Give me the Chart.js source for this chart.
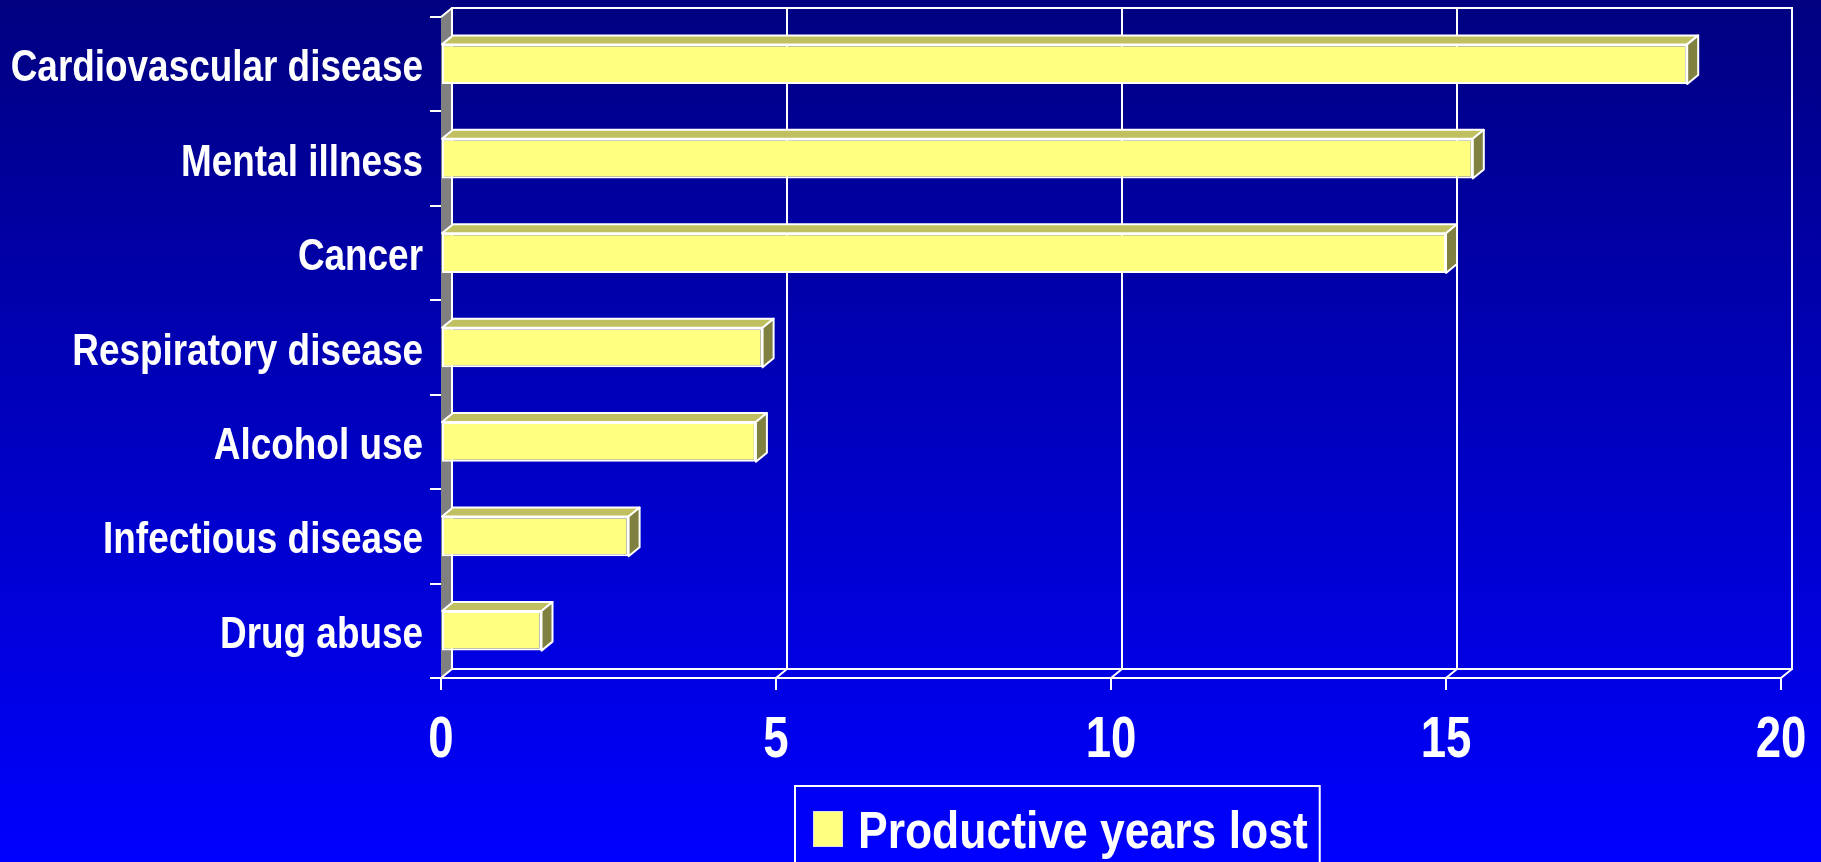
<!DOCTYPE html>
<html>
<head>
<meta charset="utf-8">
<script src="https://cdn.jsdelivr.net/npm/chart.js@4/dist/chart.umd.min.js"></script>
<style>
  html, body { margin: 0; padding: 0; background: #0000c0; overflow: hidden; }
  #wrap { width: 1821px; height: 862px; }
</style>
</head>
<body>
<div id="wrap"><canvas id="c" width="1821" height="862"></canvas></div>
<script>
// ---- data ----
const categories = [
  'Cardiovascular disease',
  'Mental illness',
  'Cancer',
  'Respiratory disease',
  'Alcohol use',
  'Infectious disease',
  'Drug abuse'
];
const productiveYearsLost = [18.6, 15.4, 15.0, 4.8, 4.7, 2.8, 1.5];
const xTickValues = [0, 5, 10, 15, 20];
const seriesLabel = 'Productive years lost';

// ---- styling ----
const FONT = '"Liberation Sans", Arial, sans-serif';
const DX = 11, DY = 9;
const FRONT = '#FFFF80', TOP = '#C0C060', SIDE = '#808040', WALL = '#808080';

function seg(ctx, x1, y1, x2, y2) {
  ctx.beginPath(); ctx.moveTo(x1, y1); ctx.lineTo(x2, y2); ctx.stroke();
}
function poly(ctx, pts, fill) {
  ctx.beginPath();
  ctx.moveTo(pts[0][0], pts[0][1]);
  for (let i = 1; i < pts.length; i++) ctx.lineTo(pts[i][0], pts[i][1]);
  ctx.closePath();
  ctx.fillStyle = fill; ctx.fill();
  ctx.stroke();
}
// condensed text (narrow bold look)
function narrowText(ctx, text, x, y, size, sx, align) {
  ctx.save();
  ctx.font = 'bold ' + size + 'px ' + FONT;
  ctx.fillStyle = '#FFFFFF';
  ctx.textAlign = align;
  ctx.textBaseline = 'alphabetic';
  ctx.translate(x, y);
  ctx.scale(sx, 1);
  ctx.fillText(text, 0, 0);
  const w = ctx.measureText(text).width * sx;
  ctx.restore();
  return w;
}

const threeD = {
  id: 'threeD',
  beforeDraw(chart) {
    const ctx = chart.ctx;
    const g = ctx.createLinearGradient(0, 0, 0, chart.height);
    g.addColorStop(0, '#000080');
    g.addColorStop(1, '#0000FF');
    ctx.save();
    ctx.fillStyle = g;
    ctx.fillRect(0, 0, chart.width, chart.height);
    ctx.restore();
  },
  beforeDatasetsDraw(chart) {
    const ctx = chart.ctx;
    const { left, right, top, bottom } = chart.chartArea;
    const xs = chart.scales.x;
    ctx.save();
    ctx.strokeStyle = '#FFFFFF';
    ctx.lineWidth = 2;
    // left side wall
    ctx.beginPath();
    ctx.moveTo(left, top); ctx.lineTo(left + DX, top - DY);
    ctx.lineTo(left + DX, bottom - DY); ctx.lineTo(left, bottom); ctx.closePath();
    ctx.fillStyle = WALL; ctx.fill();
    seg(ctx, left, top, left + DX, top - DY);
    // back wall
    ctx.strokeRect(left + DX, top - DY, right - left, bottom - top);
    // gridlines on back wall + floor diagonals
    xTickValues.forEach(v => {
      const px = xs.getPixelForValue(v);
      seg(ctx, px + DX, top - DY, px + DX, bottom - DY);
      seg(ctx, px + DX, bottom - DY, px, bottom);
    });
    ctx.restore();
  },
  afterDatasetsDraw(chart) {
    const ctx = chart.ctx;
    ctx.save();
    ctx.strokeStyle = '#FFFFFF';
    ctx.lineWidth = 2;
    ctx.lineJoin = 'round';
    chart.getDatasetMeta(0).data.forEach(el => {
      const p = el.getProps(['x', 'y', 'base', 'height'], true);
      const t = p.y - p.height / 2, b = p.y + p.height / 2;
      poly(ctx, [[p.base, t], [p.x, t], [p.x + DX, t - DY], [p.base + DX, t - DY]], TOP);
      poly(ctx, [[p.x, t], [p.x + DX, t - DY], [p.x + DX, b - DY], [p.x, b]], SIDE);
    });
    ctx.restore();
  },
  afterDraw(chart) {
    const ctx = chart.ctx;
    const ys = chart.scales.y, xs = chart.scales.x;
    const { left, bottom } = chart.chartArea;
    // category labels
    ys.ticks.forEach((t, i) => {
      const py = ys.getPixelForTick(i);
      narrowText(ctx, ys.getLabelForValue(t.value), left - 18, py + 17, 45, 0.82, 'right');
    });
    // value labels
    xs.ticks.forEach(t => {
      const px = xs.getPixelForValue(t.value);
      narrowText(ctx, String(t.value), px, bottom + 79, 57, 0.8, 'center');
    });
    // legend box
    const LS = 52, LX = 0.855;
    ctx.save();
    ctx.font = 'bold ' + LS + 'px ' + FONT;
    const tw = ctx.measureText(seriesLabel).width * LX;
    const bx = 795, by = 786;
    const sw = 30, sh = 36;
    const sx = bx + 18, sy = by + 25;
    const tx = sx + sw + 15;
    const bw = tx + tw + 12 - bx;
    ctx.strokeStyle = '#FFFFFF';
    ctx.lineWidth = 2;
    ctx.strokeRect(bx, by, bw, 100);
    ctx.fillStyle = FRONT;
    ctx.fillRect(sx, sy, sw, sh);
    ctx.strokeStyle = '#E0E0E0';
    ctx.lineWidth = 1;
    ctx.strokeRect(sx + 0.5, sy + 0.5, sw - 1, sh - 1);
    ctx.restore();
    narrowText(ctx, seriesLabel, tx, 848, LS, LX, 'left');
  }
};

new Chart(document.getElementById('c'), {
  type: 'bar',
  data: {
    labels: categories,
    datasets: [{
      label: seriesLabel,
      data: productiveYearsLost,
      backgroundColor: FRONT,
      borderColor: '#FFFFFF',
      borderWidth: 2,
      borderSkipped: false,
      barPercentage: 0.42,
      categoryPercentage: 1.0
    }]
  },
  options: {
    indexAxis: 'y',
    responsive: false,
    animation: false,
    devicePixelRatio: 1,
    layout: { padding: { left: 0, top: 17, right: 40, bottom: 84 } },
    plugins: { legend: { display: false }, tooltip: { enabled: false } },
    scales: {
      x: {
        type: 'linear',
        min: 0, max: 20,
        afterBuildTicks: s => { s.ticks = xTickValues.map(v => ({ value: v })); },
        afterFit: s => { s.height = 100; s.paddingLeft = 0; s.paddingRight = 0; },
        ticks: { display: false },
        grid: { drawOnChartArea: false, drawTicks: true, tickLength: 12, color: '#FFFFFF', lineWidth: 2 },
        border: { display: true, color: '#FFFFFF', width: 2 }
      },
      y: {
        type: 'category',
        offset: true,
        afterFit: s => { s.width = 441; s.paddingTop = 0; s.paddingBottom = 0; },
        ticks: { display: false },
        grid: { offset: true, drawOnChartArea: false, drawTicks: true, tickLength: 11, color: '#FFFFFF', lineWidth: 2 },
        border: { display: false }
      }
    }
  },
  plugins: [threeD]
});
</script>
</body>
</html>
